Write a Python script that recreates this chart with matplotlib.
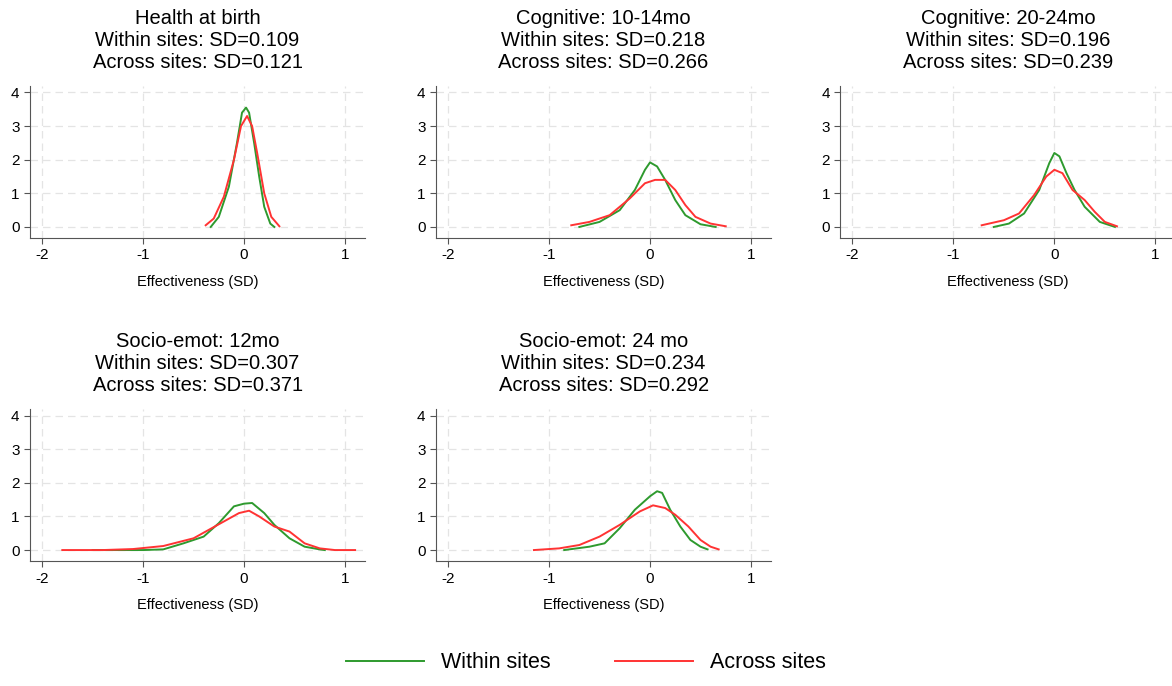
import matplotlib
matplotlib.use("Agg")
import matplotlib.pyplot as plt

plt.rcParams["font.family"] = ["Liberation Sans", "DejaVu Sans"]
plt.rcParams["axes.unicode_minus"] = False

titles = [
    "Health at birth\nWithin sites: SD=0.109\nAcross sites: SD=0.121",
    "Cognitive: 10-14mo\nWithin sites: SD=0.218\nAcross sites: SD=0.266",
    "Cognitive: 20-24mo\nWithin sites: SD=0.196\nAcross sites: SD=0.239",
    "Socio-emot: 12mo\nWithin sites: SD=0.307\nAcross sites: SD=0.371",
    "Socio-emot: 24 mo\nWithin sites: SD=0.234\nAcross sites: SD=0.292",
]

# density curves (x, y)
within_x = [
    [-0.33, -0.25, -0.15, -0.07, -0.02, 0.02, 0.05, 0.1, 0.15, 0.2, 0.26, 0.3],
    [-0.7, -0.5, -0.3, -0.15, -0.05, 0, 0.07, 0.15, 0.25, 0.35, 0.5, 0.65],
    [-0.6, -0.45, -0.3, -0.15, -0.05, 0, 0.05, 0.12, 0.2, 0.3, 0.45, 0.6],
    [-1.5, -1.0, -0.8, -0.6, -0.4, -0.25, -0.1, 0, 0.08, 0.2, 0.3, 0.45, 0.6, 0.75, 0.8],
    [-0.85, -0.6, -0.45, -0.3, -0.15, 0, 0.07, 0.12, 0.2, 0.3, 0.4, 0.5, 0.57],
]
within_y = [
    [0, 0.3, 1.2, 2.5, 3.4, 3.55, 3.4, 2.5, 1.5, 0.6, 0.1, 0],
    [0, 0.15, 0.5, 1.1, 1.7, 1.92, 1.8, 1.4, 0.8, 0.35, 0.08, 0],
    [0, 0.1, 0.4, 1.1, 1.9, 2.2, 2.1, 1.6, 1.1, 0.6, 0.15, 0],
    [0, 0, 0.02, 0.2, 0.4, 0.8, 1.3, 1.38, 1.4, 1.1, 0.75, 0.35, 0.1, 0.02, 0],
    [0, 0.1, 0.2, 0.65, 1.2, 1.6, 1.75, 1.7, 1.2, 0.7, 0.3, 0.1, 0.02],
]
across_x = [
    [-0.38, -0.3, -0.2, -0.1, -0.03, 0.03, 0.08, 0.13, 0.2, 0.27, 0.35],
    [-0.78, -0.6, -0.4, -0.2, -0.05, 0.05, 0.15, 0.25, 0.35, 0.45, 0.6, 0.75],
    [-0.72, -0.5, -0.35, -0.2, -0.08, 0, 0.08, 0.18, 0.3, 0.4, 0.5, 0.62],
    [-1.8, -1.4, -1.1, -0.8, -0.5, -0.2, -0.05, 0.05, 0.15, 0.3, 0.45, 0.6, 0.75, 0.9, 1.1],
    [-1.15, -0.9, -0.7, -0.5, -0.3, -0.1, 0.03, 0.15, 0.25, 0.38, 0.5, 0.6, 0.68],
]
across_y = [
    [0.05, 0.25, 0.9, 2.0, 3.0, 3.3, 3.0, 2.2, 1.0, 0.3, 0.02],
    [0.05, 0.15, 0.35, 0.85, 1.3, 1.4, 1.4, 1.1, 0.65, 0.3, 0.1, 0.02],
    [0.05, 0.2, 0.4, 0.95, 1.5, 1.7, 1.6, 1.1, 0.8, 0.45, 0.15, 0.02],
    [0, 0, 0.03, 0.12, 0.35, 0.85, 1.1, 1.17, 1.0, 0.7, 0.55, 0.2, 0.05, 0, 0],
    [0, 0.05, 0.15, 0.4, 0.75, 1.15, 1.33, 1.25, 1.05, 0.7, 0.3, 0.1, 0.02],
]

green = "#2e9a2e"
red = "#ff3333"
spine = "#555555"

fig = plt.figure(figsize=(11.72, 6.86), dpi=100)
lefts = [0.0256, 0.372, 0.717]
bottoms = [0.653, 0.182]
w, h = 0.286, 0.222

for i in range(5):
    r, c = divmod(i, 3)
    ax = fig.add_axes([lefts[c], bottoms[r], w, h])
    ax.plot(within_x[i], within_y[i], color=green, lw=1.4, label="Within sites")
    ax.plot(across_x[i], across_y[i], color=red, lw=1.4, label="Across sites")
    ax.set_xlim(-2.12, 1.2)
    ax.set_ylim(-0.33, 4.2)
    ax.set_xticks([-2, -1, 0, 1])
    ax.set_yticks([0, 1, 2, 3, 4])
    ax.grid(True, color="#e4e4e4", linestyle=(0, (6, 4)), lw=0.9)
    ax.set_axisbelow(True)
    for s in ["top", "right"]:
        ax.spines[s].set_visible(False)
    for s in ["left", "bottom"]:
        ax.spines[s].set_color(spine)
    ax.tick_params(colors=spine, labelcolor="black", labelsize=11, length=4)
    ax.set_xlabel("Effectiveness (SD)", fontsize=10.5, labelpad=9)
    ax.set_title(titles[i], fontsize=14.5, linespacing=1.18, pad=13)
    if i == 0:
        handles, labels = ax.get_legend_handles_labels()

fig.legend(handles, labels, loc="lower center", bbox_to_anchor=(0.5, -0.01), ncol=2,
           frameon=False, fontsize=15.5, handlelength=3.6, columnspacing=3)

fig.savefig("out.png", dpi=100)
